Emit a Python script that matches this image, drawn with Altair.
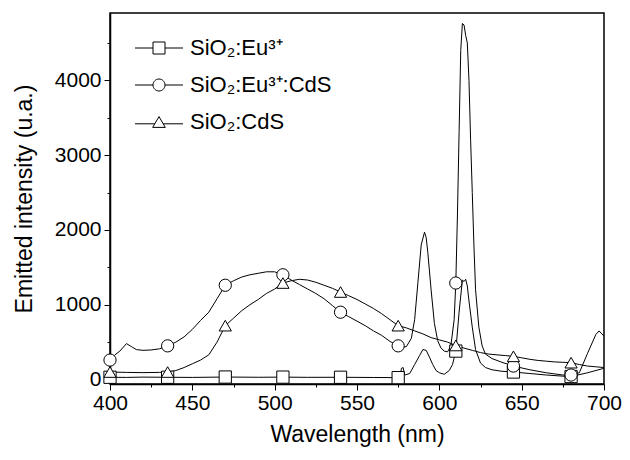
import altair as alt
import pandas as pd

x_ticks = [400, 450, 500, 550, 600, 650, 700]
x_minor = [425, 475, 525, 575, 625, 675]
y_ticks = [0, 1000, 2000, 3000, 4000]
y_minor = [500, 1500, 2500, 3500, 4500]
marker_wl = [400, 435, 470, 505, 540, 575, 610, 645, 680]

series_names = ["SiO₂:Eu³⁺", "SiO₂:Eu³⁺:CdS", "SiO₂:CdS"]

eu_wl = [400, 410, 420, 435, 450, 470, 490, 505, 520, 540, 560, 575, 576, 577, 578, 579, 582, 585, 588, 590,
         592, 594, 596, 598, 600, 603, 606, 608, 610, 612, 614, 615, 616, 617, 618, 620, 622, 625, 628, 632,
         638, 645, 655, 665, 675, 680, 690, 700]
eu_val = [30, 28, 32, 30, 28, 33, 30, 32, 29, 30, 27, 25, 30, 150, 160, 60, 80, 200, 320, 400,
          390, 300, 200, 120, 90, 70, 120, 200, 380, 900, 1330, 1310, 1340, 1250, 1050, 700, 400, 220, 160, 130,
          110, 100, 80, 60, 45, 40, 90, 150]

euc_wl = [400, 403, 406, 410, 413, 416, 420, 425, 430, 435, 440, 445, 450, 455, 460, 465, 470, 475, 480, 485,
          490, 495, 500, 505, 510, 515, 520, 525, 530, 535, 540, 545, 550, 555, 560, 565, 570, 575, 577, 580,
          583, 585, 587, 589, 591, 592, 593, 595, 597, 599, 601, 603, 605, 607, 609, 610, 611, 612, 613, 614,
          615, 616, 617, 618, 619, 620, 621, 622, 624, 626, 628, 632, 638, 645, 655, 665, 675, 680, 685, 690,
          695, 697, 700]
euc_val = [260, 330, 380, 480, 440, 400, 390, 395, 410, 450, 500, 570, 670, 790, 900, 1080, 1260, 1320, 1370, 1400,
           1420, 1440, 1440, 1400, 1330, 1270, 1210, 1150, 1080, 990, 900, 840, 780, 720, 650, 590, 510, 450, 430, 440,
           550, 800, 1300, 1800, 1970, 1900, 1700, 1200, 750, 520, 420, 380, 370, 450, 800, 1290, 2200, 3300, 4400, 4760,
           4740, 4600, 4500, 4000, 3200, 2500, 1800, 1200, 700, 450, 340, 280, 230, 180, 130, 90, 60, 60, 90, 350,
           600, 650, 580]

cds_wl = [400, 410, 420, 430, 435, 440, 445, 450, 455, 460, 465, 470, 475, 480, 485, 490, 495, 500, 505, 510,
          515, 520, 525, 530, 535, 540, 545, 550, 555, 560, 565, 570, 575, 580, 585, 590, 595, 600, 605, 610,
          615, 620, 625, 630, 635, 640, 645, 650, 655, 660, 665, 670, 675, 680, 685, 690, 695, 700]
cds_val = [100, 95, 92, 95, 100, 120, 160, 210, 260, 330, 500, 720, 820, 920, 1000, 1070, 1150, 1210, 1290, 1320,
           1340, 1330, 1300, 1260, 1220, 1170, 1120, 1070, 1010, 950, 880, 800, 720, 690, 650, 610, 560, 530, 500, 455,
           420, 390, 360, 340, 330, 320, 310, 290, 270, 255, 245, 235, 230, 225, 200, 180, 170, 160]

rows = []
for name, wl, val in zip(series_names, [eu_wl, euc_wl, cds_wl], [eu_val, euc_val, cds_val]):
    for w, v in zip(wl, val):
        rows.append({"series": name, "wl": w, "value": v})
df = pd.DataFrame(rows)

FONT = "Liberation Sans"

x_scale = alt.Scale(domain=[400, 700], nice=False, zero=False)
y_scale = alt.Scale(domain=[-60, 4900], nice=False, zero=False)

x_main = alt.X("wl:Q", scale=x_scale, axis=alt.Axis(values=x_ticks, title="Wavelength (nm)", orient="bottom",
                                                    grid=False, tickSize=6, labelPadding=2, titlePadding=10,
                                                    format="d", labelFlush=False, labelOverlap=False))
y_main = alt.Y("value:Q", scale=y_scale, axis=alt.Axis(values=y_ticks, title="Emitted intensity (u.a.)", orient="left",
                                                       grid=False, tickSize=6, labelPadding=3, titlePadding=18,
                                                       format="d", labelFlush=False, labelOverlap=False))

lines = alt.Chart(df).mark_line(color="black", strokeWidth=1).encode(
    x=x_main, y=y_main, detail="series:N", order="wl:Q")

markers = alt.Chart(df).transform_filter(
    alt.FieldOneOfPredicate(field="wl", oneOf=marker_wl)
).mark_point(filled=True, fill="white", stroke="black", strokeWidth=1, opacity=1, size=150).encode(
    x=alt.X("wl:Q", scale=x_scale, axis=None),
    y=alt.Y("value:Q", scale=y_scale, axis=None),
    shape=alt.Shape("series:N", scale=alt.Scale(domain=series_names, range=["square", "circle", "triangle-up"]),
                    legend=None),
)

legend_paths = [
    "M-4,0H-1M1,0H4M-1,-1H1V1H-1Z",
    "M-4,0H-1M1,0H4M-1,0A1,1,0,1,0,1,0A1,1,0,1,0,-1,0Z",
    "M-4,0.3H-0.7M0.7,0.3H4M0,-0.9L1.05,0.9L-1.05,0.9Z",
]

legend_layer = alt.Chart(df).transform_filter("false").mark_point(
    filled=False, color="black", strokeWidth=1, opacity=1, size=144
).encode(
    x=alt.X("wl:Q", scale=x_scale, axis=None),
    y=alt.Y("value:Q", scale=y_scale, axis=None),
    shape=alt.Shape("series:N", scale=alt.Scale(domain=series_names, range=legend_paths),
                    legend=alt.Legend(title=None, orient="none", legendX=38, legendY=24, symbolSize=144,
                                      labelFont=FONT, labelFontSize=22, labelColor="black", labelOffset=20,
                                      labelLimit=400, rowPadding=15, padding=0, symbolStrokeWidth=1,
                                      symbolStrokeColor="black")),
)

minor = alt.Chart(df).transform_filter("false").mark_point().encode(
    x=alt.X("wl:Q", scale=x_scale, axis=alt.Axis(values=x_minor, orient="bottom", labels=False, domain=False,
                                                  title=None, tickSize=3, grid=False)),
    y=alt.Y("value:Q", scale=y_scale, axis=alt.Axis(values=y_minor, orient="left", labels=False, domain=False,
                                                     title=None, tickSize=3, grid=False)),
)

chart = alt.layer(lines, markers, legend_layer, minor).resolve_scale(
    shape="independent"
).resolve_axis(
    x="independent", y="independent"
).properties(
    width=494, height=371,
    padding={"left": 102, "top": 5, "right": 18, "bottom": 70},
    autosize=alt.AutoSizeParams(type="none"),
    background="white",
).configure_view(
    stroke="black", strokeWidth=1.5
).configure_axis(
    domainColor="black", domainWidth=1.5, tickColor="black", tickWidth=1,
    labelFont=FONT, labelFontSize=21, labelColor="black",
    titleFont=FONT, titleFontSize=23, titleColor="black", titleFontWeight="normal",
)

chart.save("out.html", embed_options={"renderer": "svg", "actions": False})
